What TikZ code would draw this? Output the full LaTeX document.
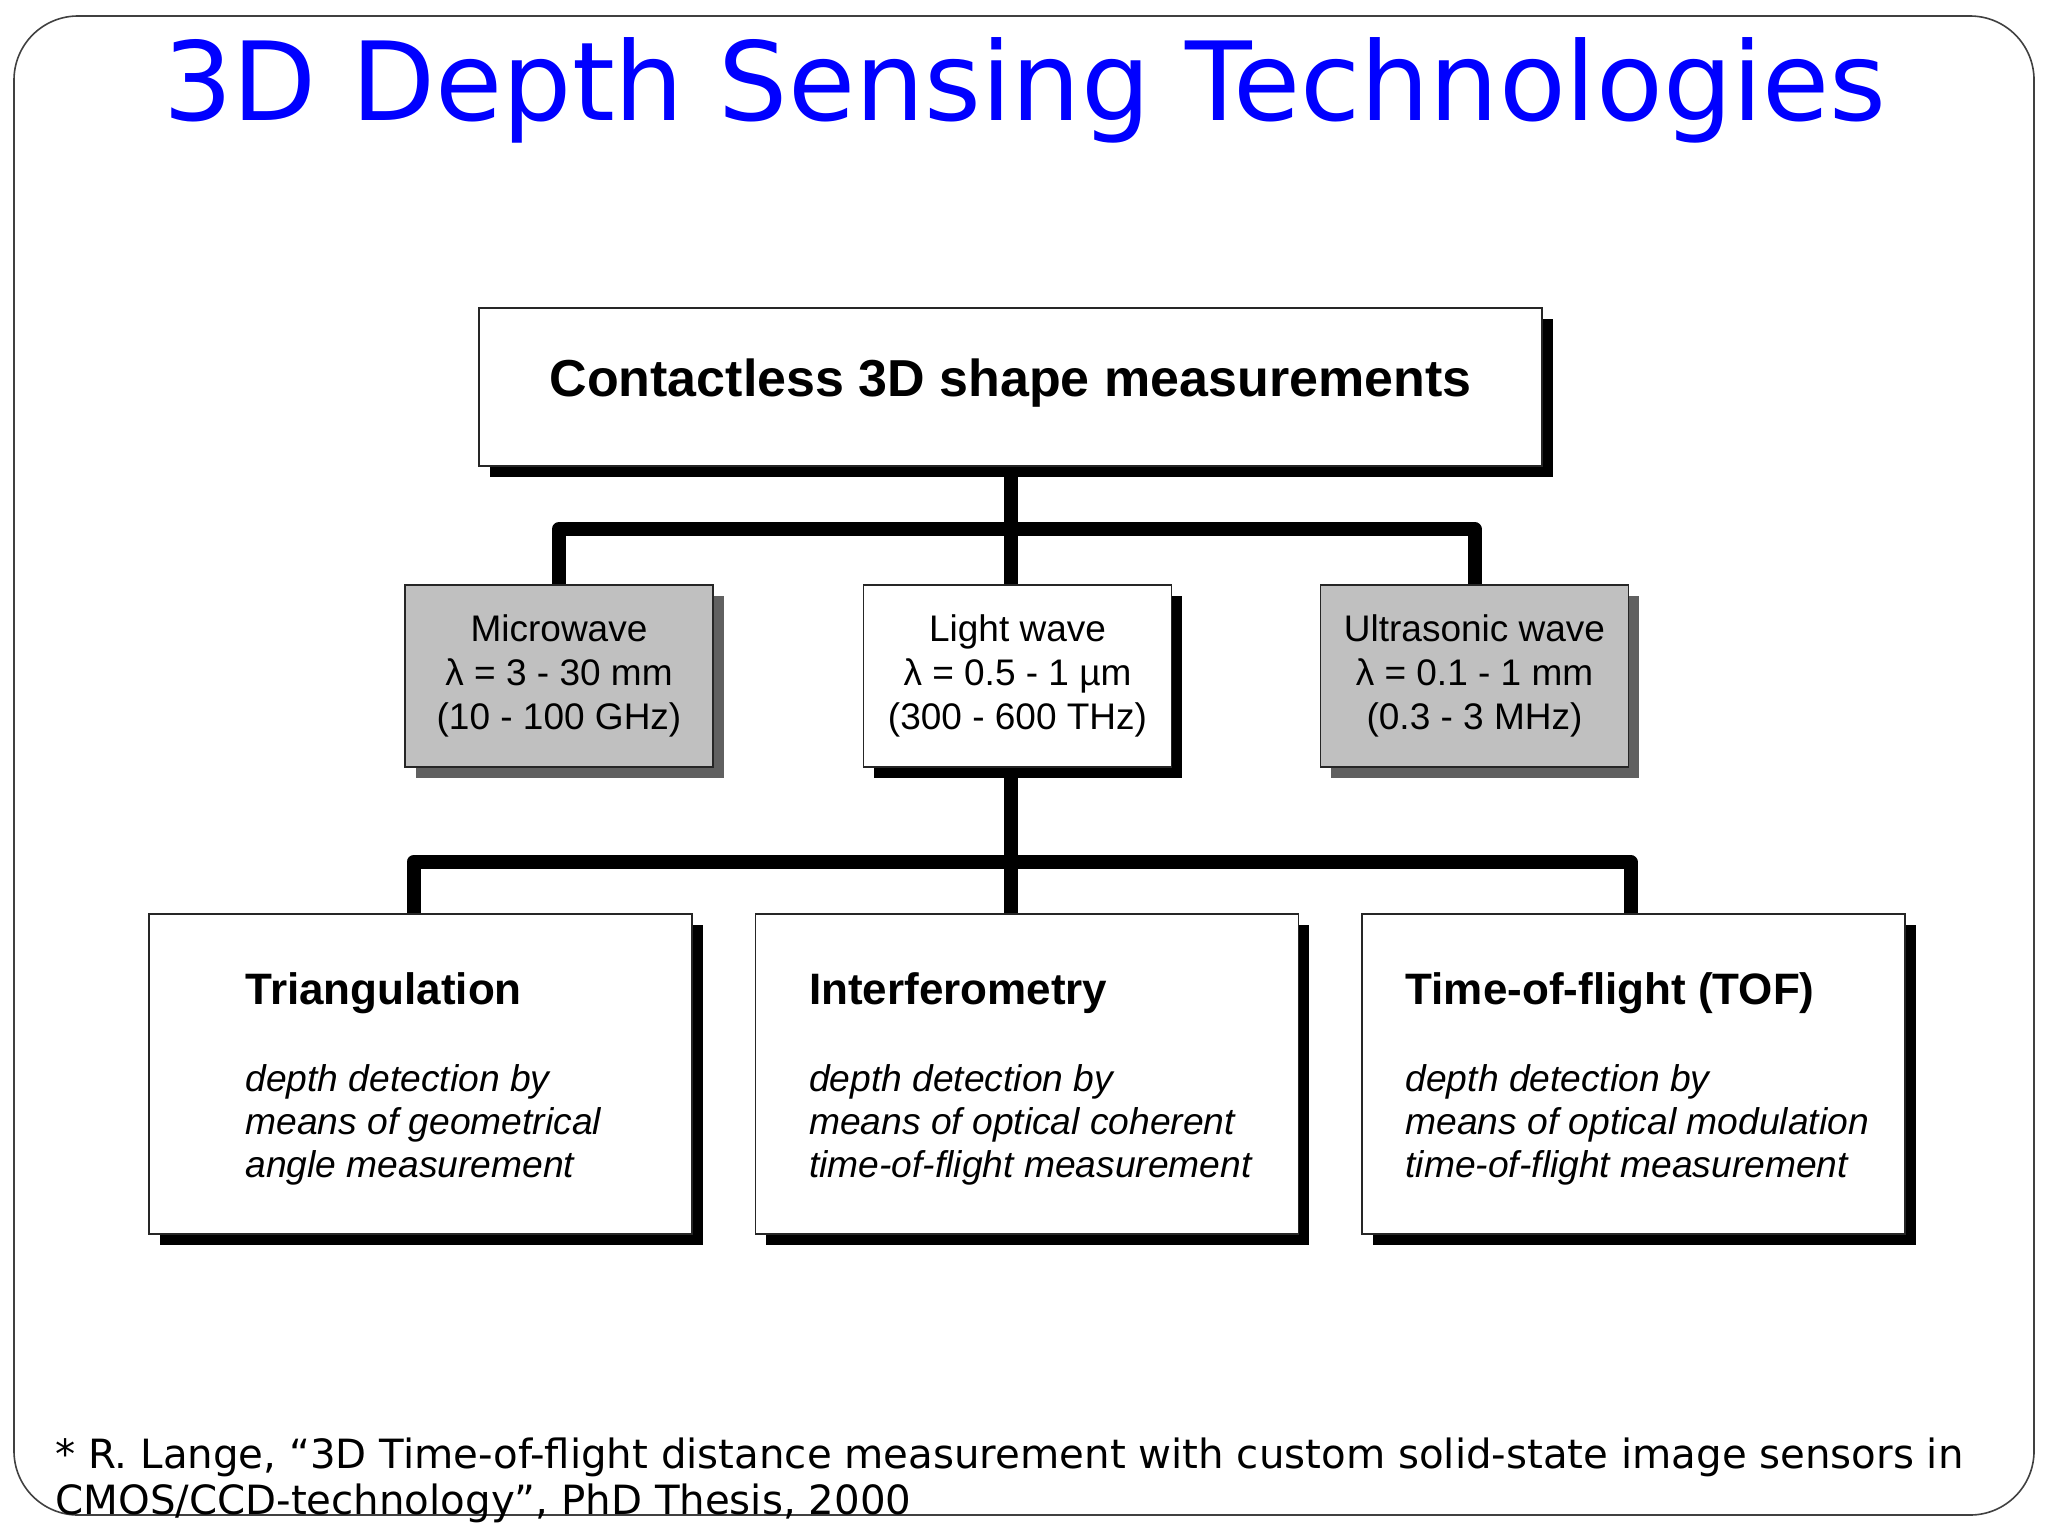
\documentclass[tikz,border=0pt]{standalone}
\usepackage{fontspec}
\setmainfont{Liberation Sans}
\newfontfamily\slidefont{DejaVu Sans}
\usepackage{tikz}
\usetikzlibrary{positioning,shadows,backgrounds}
\definecolor{slideblue}{RGB}{0,0,255}
\definecolor{boxgrey}{RGB}{192,192,192}
\definecolor{shadegrey}{RGB}{96,96,96}

\begin{document}
\begin{tikzpicture}[
  x=0.5pt, y=-0.5pt,
  frame/.style={draw=black!75, line width=0.8pt, rounded corners=32pt},
  box/.style={draw=black!85, line width=0.8pt, fill=white, inner sep=0pt,
    general shadow={fill=black, shadow xshift=5.25pt, shadow yshift=-5.25pt}},
  greybox/.style={draw=black!85, line width=0.8pt, fill=boxgrey, inner sep=0pt,
    general shadow={fill=shadegrey, shadow xshift=5.25pt, shadow yshift=-5.25pt}},
  wave/.style={minimum width=154pt, minimum height=91pt, align=center,
    font=\fontsize{18.5}{22}\selectfont},
  method/.style={box, minimum width=271.5pt, minimum height=160pt},
  desc/.style={align=left, inner sep=0pt, yshift=-2.5pt, font=\itshape\fontsize{18.6}{21.5}\selectfont},
  bar/.style={line width=7pt, line join=round}
]
\useasboundingbox (0,0) rectangle (2048,1536);

\node[anchor=base, text=slideblue, font=\slidefont\fontsize{54.6}{60}\selectfont] (title) at (1025,120) {3D Depth Sensing Technologies};

% top level
\node[box, minimum width=531.5pt, minimum height=79pt, text depth=9.5pt, font=\bfseries\fontsize{26}{30}\selectfont] (top) at (1010.5,387) {Contactless 3D shape measurements};

% wave types
\node[greybox, wave] (micro) at (559,676) {Microwave\\λ = 3 - 30 mm\\(10 - 100 GHz)};
\node[box, wave] (light) at (1017.5,676) {Light wave\\λ = 0.5 - 1 µm\\(300 - 600 THz)};
\node[greybox, wave] (ultra) at (1474.5,676) {Ultrasonic wave\\λ = 0.1 - 1 mm\\(0.3 - 3 MHz)};

% methods
\node[method] (tri) at (420.5,1074) {};
\node[method] (inter) at (1027,1074) {};
\node[method] (tof) at (1633.5,1074) {};
\node[desc, right=48.5pt of tri.west] (tritxt) {{\upshape\bfseries\fontsize{22}{26}\selectfont Triangulation}\\[22.3pt]depth detection by\\means of geometrical\\angle measurement};
\node[desc, right=27pt of inter.west] (intertxt) {{\upshape\bfseries\fontsize{22}{26}\selectfont Interferometry}\\[22.3pt]depth detection by\\means of optical coherent\\time-of-flight measurement};
\node[desc, right=22pt of tof.west] (toftxt) {{\upshape\bfseries\fontsize{22}{26}\selectfont Time-of-flight (TOF)}\\[22.3pt]depth detection by\\means of optical modulation\\time-of-flight measurement};

\node[anchor=north west, inner sep=0pt, align=left, font=\slidefont\fontsize{20.15}{23}\selectfont] (ref) at (55,1437) {* R. Lange, “3D Time-of-flight distance measurement with custom solid-state image sensors in\\CMOS/CCD-technology”, PhD Thesis, 2000};

\begin{scope}[on background layer]
\draw[frame] (14,16) rectangle (2034,1515);
\coordinate (j1) at (1010,529);
\coordinate (j2) at (1010,862);
\draw[bar] (micro.north) |- (j1) -| (ultra.north);
\draw[bar] (top.south) -- (top.south |- light.north);
\draw[bar] ([xshift=-3.5pt]tri.north) |- (j2) -| ([xshift=-1.5pt]tof.north);
\draw[bar] (top.south |- light.south) -- (top.south |- inter.north);
\end{scope}
\end{tikzpicture}
\end{document}
